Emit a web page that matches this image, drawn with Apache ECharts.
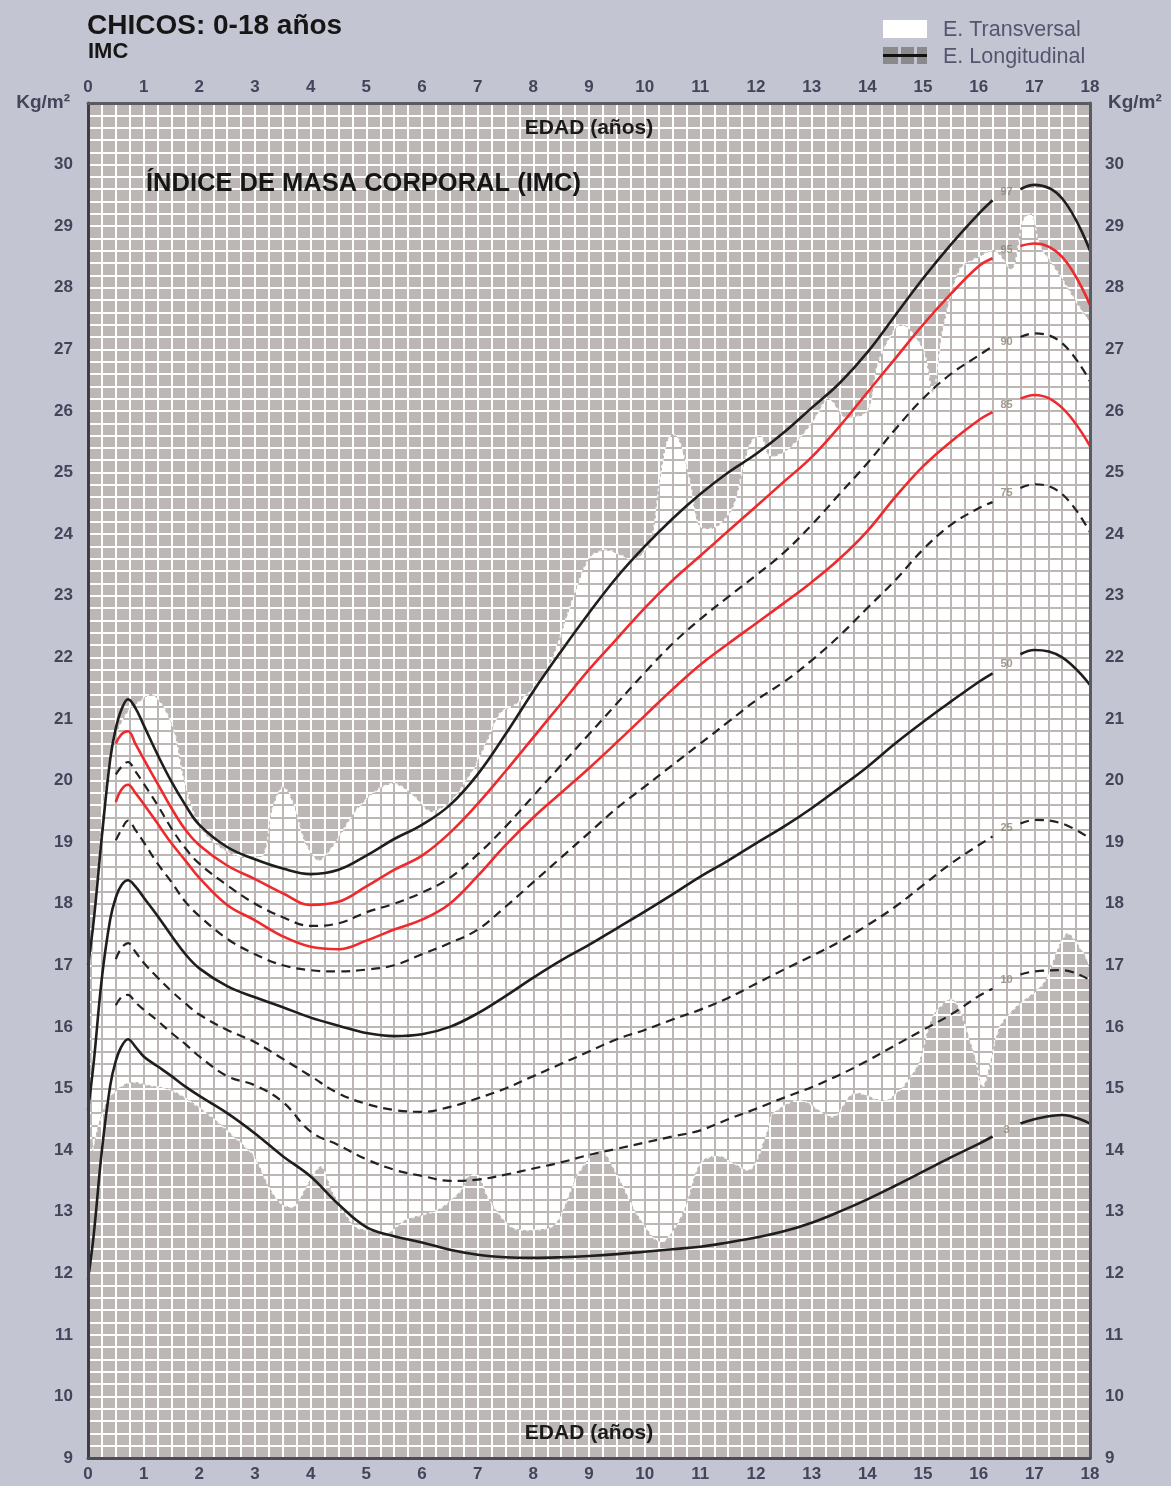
<!DOCTYPE html>
<html>
<head>
<meta charset="utf-8">
<script src="https://cdn.jsdelivr.net/npm/echarts@6/dist/echarts.min.js"></script>
<style>
html,body{margin:0;padding:0;background:#c4c5d3;}
#chart{width:1171px;height:1486px;}
</style>
</head>
<body>
<div id="chart"></div>
<script>
// ---------- DATA ----------
const AGES = [0, 0.1, 0.25, 0.4, 0.5, 0.6, 0.72, 0.85, 1, 1.25, 1.5, 1.75, 2, 2.5, 3, 3.5, 4, 4.5, 5, 5.5, 6, 6.5, 7, 7.5, 8, 8.5, 9, 9.5, 10, 10.5, 11, 11.5, 12, 12.5, 13, 13.5, 14, 14.5, 15, 15.5, 16, 16.25, 16.5, 16.75, 17, 17.5, 18];

const P97 = [17.0, 17.7, 19.1, 20.35, 20.85, 21.15, 21.32, 21.18, 20.9, 20.42, 19.98, 19.6, 19.28, 18.92, 18.72, 18.57, 18.48, 18.55, 18.78, 19.05, 19.28, 19.6, 20.1, 20.75, 21.45, 22.1, 22.72, 23.3, 23.8, 24.25, 24.65, 25.0, 25.3, 25.65, 26.05, 26.45, 26.95, 27.55, 28.15, 28.7, 29.2, 29.42, null, 29.6, 29.67, 29.45, 28.6];
const P95 = [null, null, null, null, 20.6, 20.75, 20.8, 20.6, 20.35, 19.95, 19.55, 19.2, 18.95, 18.62, 18.4, 18.17, 17.98, 18.03, 18.28, 18.55, 18.78, 19.15, 19.62, 20.15, 20.7, 21.25, 21.8, 22.3, 22.8, 23.25, 23.65, 24.05, 24.45, 24.85, 25.25, 25.75, 26.3, 26.85, 27.4, 27.9, 28.35, 28.48, null, 28.68, 28.72, 28.5, 27.72];
const P90 = [null, null, null, null, 20.1, 20.22, 20.3, 20.15, 19.95, 19.6, 19.22, 18.9, 18.65, 18.3, 18.0, 17.78, 17.64, 17.68, 17.86, 18.0, 18.18, 18.42, 18.8, 19.25, 19.75, 20.25, 20.75, 21.25, 21.75, 22.22, 22.62, 22.98, 23.33, 23.7, 24.15, 24.65, 25.15, 25.7, 26.2, 26.6, 26.9, 27.05, null, 27.2, 27.26, 27.1, 26.48];
const P85 = [null, null, null, null, 19.65, 19.85, 19.93, 19.8, 19.62, 19.3, 18.98, 18.7, 18.42, 17.98, 17.73, 17.47, 17.3, 17.26, 17.4, 17.58, 17.74, 18.0, 18.45, 18.95, 19.4, 19.8, 20.2, 20.62, 21.05, 21.48, 21.88, 22.22, 22.55, 22.88, 23.22, 23.6, 24.05, 24.6, 25.1, 25.5, 25.85, 25.98, null, 26.2, 26.26, 26.05, 25.43];
const P75 = [null, null, null, null, 19.03, 19.2, 19.35, 19.2, 19.0, 18.65, 18.35, 18.03, 17.8, 17.43, 17.18, 17.0, 16.92, 16.9, 16.93, 17.0, 17.18, 17.36, 17.58, 17.95, 18.35, 18.75, 19.15, 19.55, 19.9, 20.25, 20.6, 20.95, 21.3, 21.6, 21.95, 22.35, 22.8, 23.25, 23.75, 24.15, 24.42, 24.52, null, 24.75, 24.81, 24.65, 24.03];
const P50 = [14.65, 15.4, 16.8, 17.75, 18.1, 18.3, 18.38, 18.28, 18.1, 17.8, 17.48, 17.18, 16.95, 16.66, 16.48, 16.32, 16.15, 16.02, 15.9, 15.85, 15.88, 16.0, 16.22, 16.5, 16.8, 17.08, 17.33, 17.6, 17.87, 18.15, 18.44, 18.7, 18.98, 19.25, 19.55, 19.88, 20.22, 20.6, 20.95, 21.28, 21.6, 21.74, null, 22.05, 22.12, 22.0, 21.55];
const P25 = [null, null, null, null, 17.1, 17.28, 17.36, 17.22, 17.04, 16.8, 16.58, 16.38, 16.2, 15.95, 15.75, 15.48, 15.2, 14.92, 14.75, 14.65, 14.62, 14.7, 14.84, 15.0, 15.2, 15.4, 15.6, 15.8, 15.95, 16.12, 16.28, 16.47, 16.7, 16.93, 17.15, 17.38, 17.65, 17.95, 18.3, 18.65, 18.95, 19.09, null, 19.3, 19.36, 19.3, 19.06];
const P10 = [null, null, null, null, 16.35, 16.48, 16.52, 16.4, 16.28, 16.1, 15.9, 15.72, 15.52, 15.2, 15.05, 14.78, 14.3, 14.08, 13.85, 13.68, 13.58, 13.5, 13.52, 13.6, 13.7, 13.8, 13.92, 14.02, 14.12, 14.22, 14.32, 14.5, 14.67, 14.85, 15.02, 15.22, 15.45, 15.7, 15.95, 16.2, 16.5, 16.62, null, 16.85, 16.9, 16.92, 16.76];
const P3 = [11.9, 12.6, 14.0, 15.05, 15.45, 15.68, 15.8, 15.68, 15.52, 15.36, 15.2, 15.03, 14.88, 14.6, 14.27, 13.9, 13.57, 13.12, 12.75, 12.6, 12.5, 12.38, 12.3, 12.26, 12.25, 12.26, 12.28, 12.31, 12.35, 12.39, 12.43, 12.5, 12.58, 12.68, 12.82, 13.0, 13.2, 13.42, 13.65, 13.88, 14.1, 14.22, null, 14.43, 14.5, 14.57, 14.43];

// Cross-sectional study range (white band)
const TRANS_UPPER_AGES = [0.08, 0.25, 0.45, 0.7, 0.95, 1.15, 1.35, 1.55, 1.7, 1.85, 2.05, 2.4, 2.8, 3.15, 3.3, 3.5, 3.7, 3.9, 4.15, 4.45, 4.8, 5.2, 5.5, 5.8, 6.15, 6.5, 6.9, 7.2, 7.4, 7.7, 8.0, 8.24, 8.42, 8.72, 9.02, 9.32, 9.6, 9.8, 10.1, 10.27, 10.4, 10.52, 10.63, 10.81, 10.99, 11.29, 11.59, 11.8, 11.95, 12.1, 12.25, 12.6, 13.0, 13.3, 13.6, 14.0, 14.2, 14.6, 15.0, 15.18, 15.35, 15.66, 16.0, 16.3, 16.6, 16.8, 16.95, 17.1, 17.46, 17.8, 18.0];
const TRANS_UPPER = [17.4, 19.3, 20.6, 21.1, 21.3, 21.4, 21.2, 20.8, 20.1, 19.6, 19.2, 18.9, 18.75, 18.8, 19.5, 19.9, 19.6, 19.0, 18.7, 19.0, 19.5, 19.85, 19.95, 19.8, 19.5, 19.65, 20.15, 20.7, 21.09, 21.25, 21.5, 21.79, 22.17, 22.98, 23.63, 23.74, 23.65, 23.58, 23.85, 24.88, 25.5, 25.62, 25.5, 24.88, 24.12, 24.12, 24.45, 25.2, 25.55, 25.58, 25.26, 25.4, 25.8, 26.2, 25.9, 26.0, 26.8, 27.4, 27.0, 26.3, 27.3, 28.3, 28.5, 28.6, 28.3, 29.1, 29.2, 28.7, 28.2, 27.7, 27.4];
const TRANS_LOWER_AGES = [0.08, 0.18, 0.35, 0.55, 0.78, 1.1, 1.5, 1.9, 2.28, 2.7, 2.99, 3.25, 3.47, 3.71, 3.95, 4.19, 4.4, 4.79, 5.03, 5.39, 5.69, 6.29, 6.71, 6.83, 7.0, 7.2, 7.6, 8.0, 8.4, 8.8, 9.2, 9.5, 9.9, 10.3, 10.7, 11.0, 11.35, 11.89, 12.19, 12.31, 12.79, 13.39, 13.75, 14.35, 14.89, 15.18, 15.54, 15.9, 16.08, 16.38, 16.68, 17.16, 17.58, 17.88, 18.0];
const TRANS_LOWER = [14.0, 14.38, 14.8, 15.0, 15.1, 15.05, 14.97, 14.75, 14.49, 14.15, 13.89, 13.4, 13.13, 13.08, 13.45, 13.73, 13.3, 12.76, 12.7, 12.65, 12.86, 13.03, 13.35, 13.57, 13.6, 13.2, 12.75, 12.7, 12.8, 13.6, 14.0, 13.6, 12.9, 12.5, 13.0, 13.79, 13.9, 13.68, 14.27, 14.59, 14.81, 14.54, 14.92, 14.81, 15.35, 16.17, 16.44, 15.62, 15.03, 16.0, 16.33, 16.7, 17.51, 17.2, 16.98];

// Percentile labels (placed in the gap of each curve)
const PERCENTILE_NAMES = ['97', '95', '90', '85', '75', '50', '25', '10', '3'];
const LABEL_AGE = 16.5;
const LABEL_VALUES = [29.55, 28.61, 27.12, 26.1, 24.67, 21.9, 19.23, 16.76, 14.33];

// Axes
const AGE_MIN = 0, AGE_MAX = 18;
const BMI_MIN = 9, BMI_MAX = 31;

// ---------- CHART ----------
const FONT = "'Liberation Sans', Arial, Helvetica, sans-serif";
const PLOT_GRAY = '#bcb7b5';
const TICK_COLOR = '#44445a';

const chart = echarts.init(document.getElementById('chart'), null, {renderer: 'canvas', width: 1171, height: 1486});

function pairs(vals) {
  return AGES.map((a, i) => [a, vals[i] == null ? '-' : vals[i]]);
}

const STYLES = {
  solid: {color: '#1e1e1e', width: 2.6, type: 'solid'},
  red: {color: '#ee2a2e', width: 2.6, type: 'solid'},
  dashed: {color: '#222222', width: 2.2, type: [9, 6]}
};

const CURVES = [
  ['97', P97, 'solid'], ['95', P95, 'red'], ['90', P90, 'dashed'], ['85', P85, 'red'],
  ['75', P75, 'dashed'], ['50', P50, 'solid'], ['25', P25, 'dashed'], ['10', P10, 'dashed'], ['3', P3, 'solid']
];

const lineSeries = CURVES.map(([n, vals, k]) => ({
  name: 'P' + n,
  type: 'line',
  xAxisIndex: 0, yAxisIndex: 0,
  data: pairs(vals),
  smooth: 0.4,
  showSymbol: false,
  symbol: 'none',
  connectNulls: false,
  lineStyle: STYLES[k],
  z: 5,
  silent: true
}));

const bandSeries = {
  name: 'E. Transversal',
  type: 'custom',
  xAxisIndex: 0, yAxisIndex: 0,
  data: [[AGE_MIN, BMI_MIN]],
  silent: true,
  clip: true,
  z: 2,
  blendMode: 'difference',
  renderItem: function (params, api) {
    const up = TRANS_UPPER_AGES.map((a, i) => api.coord([a, TRANS_UPPER[i]]));
    const lo = TRANS_LOWER_AGES.map((a, i) => api.coord([a, TRANS_LOWER[i]])).reverse();
    return {type: 'polygon', shape: {points: up.concat(lo), smooth: 0.3}, style: {fill: '#ffffff'}};
  }
};

const toneSeries = {
  name: 'tone',
  type: 'custom',
  xAxisIndex: 0, yAxisIndex: 0,
  data: [[AGE_MIN, BMI_MIN]],
  silent: true,
  z: 3,
  blendMode: 'lighten',
  renderItem: function (params, api) {
    const cs = params.coordSys;
    return {type: 'rect', shape: {x: cs.x, y: cs.y, width: cs.width, height: cs.height}, style: {fill: PLOT_GRAY}};
  }
};

const edgeSeries = {
  name: 'edges',
  type: 'custom',
  xAxisIndex: 0, yAxisIndex: 0,
  data: [[AGE_MIN, BMI_MIN]],
  silent: true,
  clip: true,
  z: 4,
  renderItem: function (params, api) {
    const up = TRANS_UPPER_AGES.map((a, i) => api.coord([a, TRANS_UPPER[i]]));
    const lo = TRANS_LOWER_AGES.map((a, i) => api.coord([a, TRANS_LOWER[i]]));
    const st = {stroke: 'rgba(255,255,255,0.75)', lineWidth: 1.6, lineDash: [3, 3], fill: null};
    return {type: 'group', children: [
      {type: 'polyline', shape: {points: up, smooth: 0.3}, style: st},
      {type: 'polyline', shape: {points: lo, smooth: 0.3}, style: st}
    ]};
  }
};

const labelSeries = {
  name: 'labels',
  type: 'scatter',
  xAxisIndex: 0, yAxisIndex: 0,
  symbolSize: 1,
  itemStyle: {color: 'rgba(0,0,0,0)'},
  silent: true,
  z: 6,
  data: PERCENTILE_NAMES.map((n, i) => ({name: n, value: [LABEL_AGE, LABEL_VALUES[i]]})),
  label: {show: true, position: 'inside', formatter: p => p.name, fontSize: 11, fontWeight: 'bold', color: '#8c7f70', fontFamily: FONT}
};

const tickLabel = {fontSize: 17, fontWeight: 'bold', color: TICK_COLOR, fontFamily: FONT};
const nameStyle = {fontSize: 21, fontWeight: 'bold', color: '#1a1a1a', fontFamily: FONT, verticalAlign: 'middle'};

const option = {
  backgroundColor: '#c4c5d3',
  animation: false,
  title: [
    {text: 'CHICOS: 0-18 años', left: 87, top: 12, padding: 0, z: 20,
     textStyle: {fontSize: 28, fontWeight: 'bold', color: '#161616', fontFamily: FONT}},
    {text: 'IMC', left: 88, top: 41, padding: 0, z: 20,
     textStyle: {fontSize: 22, fontWeight: 'bold', color: '#161616', fontFamily: FONT}},
    {text: 'ÍNDICE DE MASA CORPORAL (IMC)', left: 146, top: 171, padding: 0, z: 20,
     textStyle: {fontSize: 25.5, fontWeight: 'bold', color: '#151515', fontFamily: FONT}}
  ],
  grid: {left: 88, top: 103, width: 1002, height: 1355, show: true, backgroundColor: '#000000', borderWidth: 0, containLabel: false, outerBoundsMode: 'none'},
  xAxis: [
    {type: 'value', min: AGE_MIN, max: AGE_MAX, interval: 1, position: 'bottom', z: 0,
     axisLine: {show: false}, axisTick: {show: false}, axisLabel: {show: false},
     splitLine: {show: true, lineStyle: {color: '#ffffff', width: 2}},
     minorTick: {show: false, splitNumber: 4},
     minorSplitLine: {show: true, lineStyle: {color: '#ffffff', width: 2}}},
    {type: 'value', min: AGE_MIN, max: AGE_MAX, interval: 1, position: 'bottom', z: 10,
     name: 'EDAD (años)', nameLocation: 'middle', nameGap: -25, nameTextStyle: nameStyle, nameMoveOverlap: false,
     axisLine: {show: true, onZero: false, lineStyle: {color: '#4c4c54', width: 3}},
     axisTick: {show: false}, splitLine: {show: false},
     axisLabel: Object.assign({margin: 8}, tickLabel)},
    {type: 'value', min: AGE_MIN, max: AGE_MAX, interval: 1, position: 'top', z: 10,
     name: 'EDAD (años)', nameLocation: 'middle', nameGap: -25, nameTextStyle: nameStyle, nameMoveOverlap: false,
     axisLine: {show: true, onZero: false, lineStyle: {color: '#5a5a62', width: 3}},
     axisTick: {show: false}, splitLine: {show: false},
     axisLabel: Object.assign({margin: 7}, tickLabel)}
  ],
  yAxis: [
    {type: 'value', min: BMI_MIN, max: BMI_MAX, interval: 1, position: 'left', z: 0,
     axisLine: {show: false}, axisTick: {show: false}, axisLabel: {show: false},
     splitLine: {show: true, lineStyle: {color: '#ffffff', width: 2}},
     minorTick: {show: false, splitNumber: 5},
     minorSplitLine: {show: true, lineStyle: {color: '#ffffff', width: 2}}},
    {type: 'value', min: BMI_MIN, max: BMI_MAX, interval: 1, position: 'left', z: 10,
     name: 'Kg/m²', nameLocation: 'end', nameGap: 0, nameMoveOverlap: false,
     nameTextStyle: {fontSize: 19, fontWeight: 'bold', color: TICK_COLOR, fontFamily: FONT, align: 'right', verticalAlign: 'middle', padding: [0, 18, 0, 0]},
     axisLine: {show: true, onZero: false, lineStyle: {color: '#3e3e44', width: 3}},
     axisTick: {show: false}, splitLine: {show: false},
     axisLabel: Object.assign({margin: 15, showMaxLabel: false, formatter: v => (v === BMI_MAX ? '' : String(v))}, tickLabel)},
    {type: 'value', min: BMI_MIN, max: BMI_MAX, interval: 1, position: 'right', z: 10,
     name: 'Kg/m²', nameLocation: 'end', nameGap: 0, nameMoveOverlap: false,
     nameTextStyle: {fontSize: 19, fontWeight: 'bold', color: TICK_COLOR, fontFamily: FONT, align: 'left', verticalAlign: 'middle', padding: [0, 0, 0, 18]},
     axisLine: {show: true, onZero: false, lineStyle: {color: '#5a5a62', width: 3}},
     axisTick: {show: false}, splitLine: {show: false},
     axisLabel: Object.assign({margin: 15, showMaxLabel: false, formatter: v => (v === BMI_MAX ? '' : String(v))}, tickLabel)}
  ],
  graphic: [
    {type: 'rect', z: 100, shape: {x: 883, y: 20, width: 44, height: 18}, style: {fill: '#ffffff'}},
    {type: 'text', z: 100, x: 943, y: 30, style: {text: 'E. Transversal', fontSize: 21.5, fontFamily: FONT, fill: '#55556e', verticalAlign: 'middle'}},
    {type: 'rect', z: 100, shape: {x: 883, y: 47, width: 15, height: 17}, style: {fill: '#8a8a8c'}},
    {type: 'rect', z: 100, shape: {x: 901, y: 47, width: 13, height: 17}, style: {fill: '#8a8a8c'}},
    {type: 'rect', z: 100, shape: {x: 917, y: 47, width: 10, height: 17}, style: {fill: '#8a8a8c'}},
    {type: 'line', z: 101, shape: {x1: 883, y1: 55.5, x2: 927, y2: 55.5}, style: {stroke: '#111111', lineWidth: 3}},
    {type: 'text', z: 100, x: 943, y: 57, style: {text: 'E. Longitudinal', fontSize: 21.5, fontFamily: FONT, fill: '#55556e', verticalAlign: 'middle'}}
  ],
  series: [bandSeries, toneSeries, edgeSeries].concat(lineSeries, [labelSeries])
};

chart.setOption(option);
</script>
</body>
</html>
